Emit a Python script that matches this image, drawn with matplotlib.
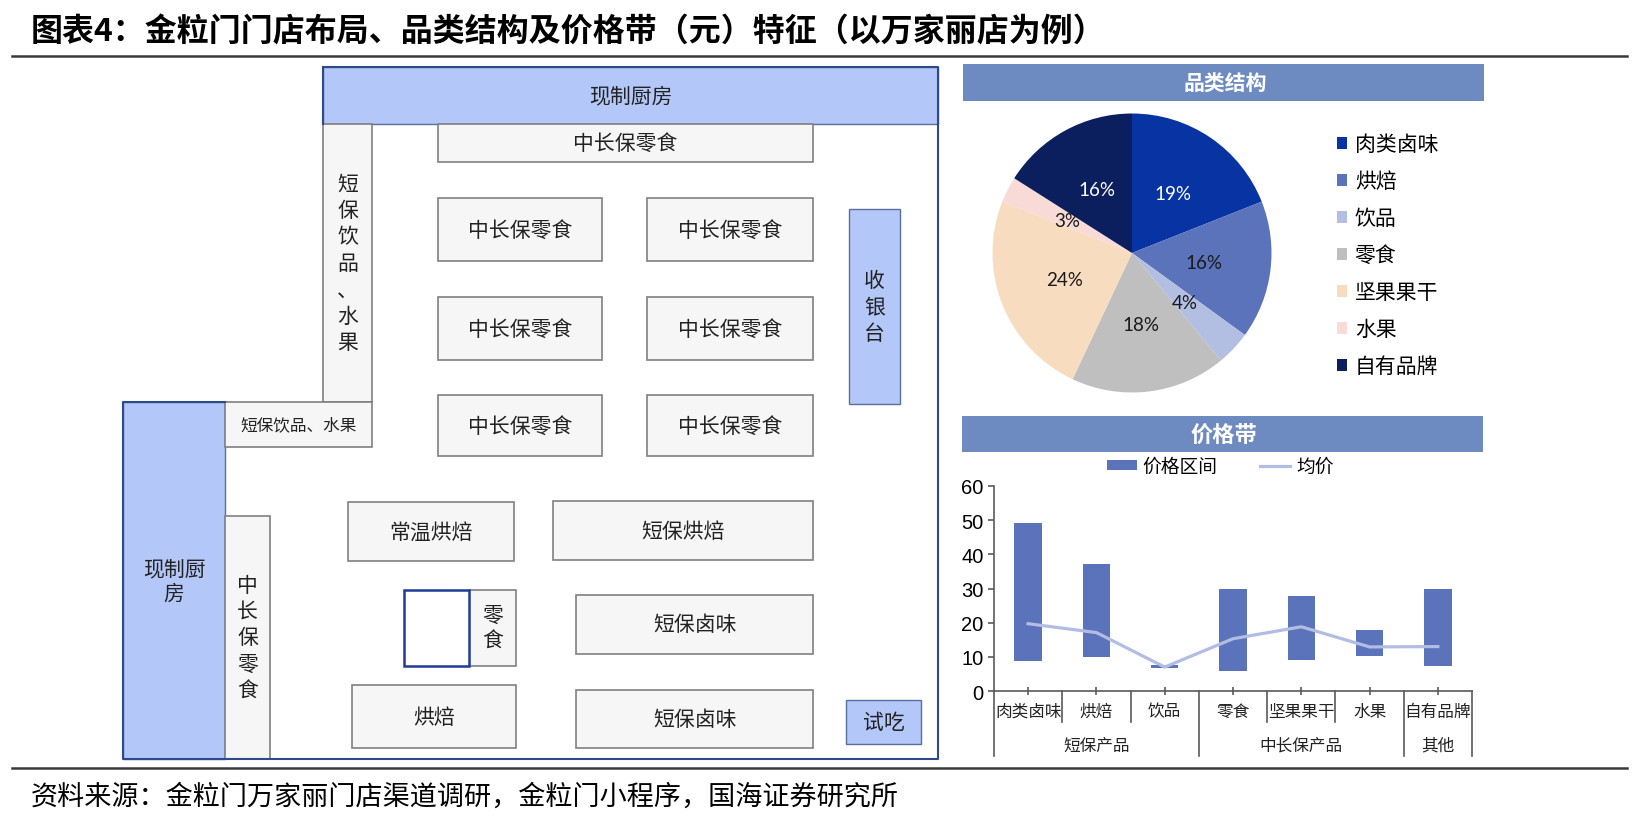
import matplotlib
matplotlib.use('Agg')
import matplotlib.pyplot as plt
from matplotlib.patches import Rectangle, Patch
from matplotlib.lines import Line2D
import numpy as np

plt.rcParams['font.family'] = ['Noto Sans CJK SC', 'DejaVu Sans']

W, H = 1638, 828

# category structure (pie)
pie_cats = ['肉类卤味', '烘焙', '饮品', '零食', '坚果果干', '水果', '自有品牌']
pie_share = [19, 16, 4, 18, 24, 3, 16]
pie_colors = ['#0834a3', '#5b73bb', '#b3bee3', '#bfbfbf', '#f7dcbf', '#f8dbd6', '#0b1f5e']
pie_text_colors = ['white', '#1a1a1a', '#1a1a1a', '#1a1a1a', '#1a1a1a', '#1a1a1a', 'white']

# price band (yuan)
price_cats = ['肉类卤味', '烘焙', '饮品', '零食', '坚果果干', '水果', '自有品牌']
price_low = [8.8, 10.0, 6.6, 6.0, 9.1, 10.2, 7.3]
price_high = [49.1, 37.2, 7.5, 30.0, 27.9, 18.0, 30.0]
price_avg = [19.7, 17.1, 7.0, 15.3, 18.8, 12.9, 13.0]
groups = ['短保产品', '中长保产品', '其他']
group_first = [0, 3, 6]
group_last = [2, 5, 6]

# store layout blocks: label, x0, y0, x1, y1 (pixels), kind, vertical text, font size
blocks = [
    ('现制厨房', 323, 68, 938, 125, 'kitchen', False, 15),
    ('现制厨\n房', 123, 403, 225, 760, 'kitchen', False, 15),
    ('收银台', 849, 210, 900, 405, 'kitchen', True, 15),
    ('试吃', 846, 701, 921, 745, 'kitchen', False, 15),
    ('中长保零食', 438, 125, 813, 163, 'shelf', False, 15),
    ('中长保零食', 438, 199, 602, 262, 'shelf', False, 15),
    ('中长保零食', 647, 199, 813, 262, 'shelf', False, 15),
    ('中长保零食', 438, 298, 602, 361, 'shelf', False, 15),
    ('中长保零食', 647, 298, 813, 361, 'shelf', False, 15),
    ('中长保零食', 438, 396, 602, 457, 'shelf', False, 15),
    ('中长保零食', 647, 396, 813, 457, 'shelf', False, 15),
    ('短保饮品、水果', 323, 125, 372, 403, 'shelf', True, 15),
    ('短保饮品、水果', 225, 403, 372, 448, 'shelf', False, 12),
    ('中长保零食', 225, 517, 270, 760, 'shelf', True, 15),
    ('常温烘焙', 348, 503, 514, 562, 'shelf', False, 15),
    ('短保烘焙', 553, 502, 813, 561, 'shelf', False, 15),
    ('零食', 469, 591, 516, 667, 'shelf', True, 15),
    ('烘焙', 352, 686, 516, 749, 'shelf', False, 15),
    ('短保卤味', 576, 596, 813, 655, 'shelf', False, 15),
    ('短保卤味', 576, 691, 813, 749, 'shelf', False, 15),
    ('', 404, 591, 469, 667, 'empty', False, 15),
]
styles = {
    'kitchen': dict(facecolor='#b4c7f9', edgecolor='#5a6ea0', linewidth=1.0),
    'shelf': dict(facecolor='#f6f6f6', edgecolor='#808080', linewidth=1.2),
    'empty': dict(facecolor='white', edgecolor='#1f3c96', linewidth=1.8),
}

fig = plt.figure(figsize=(W / 100, H / 100), dpi=100)
bg = fig.add_axes([0, 0, 1, 1])
bg.set_xlim(0, W)
bg.set_ylim(H, 0)
bg.axis('off')

# title, rules, source
bg.text(31, 33, '图表4：金粒门门店布局、品类结构及价格带（元）特征（以万家丽店为例）',
        fontsize=23, fontweight='bold', va='center', ha='left')
bg.plot([12, 1627], [57, 57], color='#3a3a3a', lw=1.8)
bg.plot([12, 1627], [769, 769], color='#3a3a3a', lw=1.8)
bg.text(31, 797, '资料来源：金粒门万家丽门店渠道调研，金粒门小程序，国海证券研究所',
        fontsize=19.5, va='center', ha='left')

# store layout
for label, x0, y0, x1, y1, kind, vert, fs in blocks:
    bg.add_patch(Rectangle((x0, y0), x1 - x0, y1 - y0, **styles[kind]))
    if label:
        txt = '\n'.join(label) if vert else label
        bg.text((x0 + x1) / 2, (y0 + y1) / 2, txt, fontsize=fs, ha='center', va='center',
                color='#222222', linespacing=1.26 if vert else 1.15, multialignment='center')
wall = '#2c4a8c'
bg.plot([323, 938, 938, 123, 123, 225], [68, 68, 760, 760, 403, 403], color=wall, lw=1.5)
bg.plot([323, 323], [68, 125], color=wall, lw=1.5)

# panel headers
head = '#6e8bc1'
bg.add_patch(Rectangle((963, 65), 521, 37, facecolor=head, edgecolor='none'))
bg.text(1225, 84, '品类结构', color='white', fontsize=15, fontweight='bold', ha='center', va='center')
bg.add_patch(Rectangle((962, 417), 521, 36, facecolor=head, edgecolor='none'))
bg.text(1224, 435, '价格带', color='white', fontsize=16, fontweight='bold', ha='center', va='center')

# pie
cx, cy, r = 1132, 254, 139.5
pax = fig.add_axes([(cx - r) / W, 1 - (cy + r) / H, 2 * r / W, 2 * r / H])
wedges, _, autotexts = pax.pie(pie_share, colors=pie_colors, startangle=90, counterclock=False,
                               radius=1, autopct=lambda p: f'{p:.0f}%', pctdistance=0.52,
                               textprops=dict(fontsize=13.5, family=['Lato', 'DejaVu Sans']))
for t, c in zip(autotexts, pie_text_colors):
    t.set_color(c)
pax.set_xlim(-1, 1)
pax.set_ylim(-1, 1)
pax.set_aspect('equal')
fig.legend(wedges, pie_cats, loc='upper left', bbox_to_anchor=(1337 / W, 1 - 134 / H),
           frameon=False, fontsize=15, handlelength=0.5, handleheight=0.5,
           handletextpad=0.35, labelspacing=0.72, borderpad=0, borderaxespad=0)

# price band bars
bax = fig.add_axes([994 / W, 1 - 692 / H, 478 / W, 205 / H])
x = np.arange(len(price_cats))
heights = np.array(price_high) - np.array(price_low)
bar_color = '#5b73bb'
avg_color = '#b3bde3'
bax.bar(x, heights, bottom=price_low, width=0.4, color=bar_color, zorder=2)
bax.plot(x, price_avg, color=avg_color, lw=2.3, zorder=3)
bax.set_xlim(-0.5, len(price_cats) - 0.5)
bax.set_ylim(0, 60)
bax.set_yticks(range(0, 61, 10))
bax.set_facecolor('none')
for s in ['top', 'right']:
    bax.spines[s].set_visible(False)
for s in ['left', 'bottom']:
    bax.spines[s].set_color('#5a5a5a')
    bax.spines[s].set_linewidth(1.2)
bax.tick_params(axis='y', direction='out', length=4.5, width=1.2, color='#5a5a5a',
                labelsize=14.5, pad=3)
for t in bax.get_yticklabels():
    t.set_family(['Liberation Sans', 'DejaVu Sans'])
bax.set_xticks(x)
bax.set_xticklabels([])
bax.tick_params(axis='x', direction='inout', length=6, width=1.2, color='#5a5a5a')

trans = bax.get_xaxis_transform()
ax_h = 205.0
for i, c in enumerate(price_cats):
    bax.text(i, -20 / ax_h, c, transform=trans, ha='center', va='center', fontsize=12,
             color='#222222')
for i in range(len(price_cats) + 1):
    b = i - 0.5
    is_group = (i == 0) or (i - 1 in group_last)
    depth = -65 / ax_h if is_group else -31 / ax_h
    bax.plot([b, b], [0, depth], transform=trans, color='#5a5a5a', lw=1.2, clip_on=False)
for g, a, b in zip(groups, group_first, group_last):
    bax.text((a + b) / 2, -54 / ax_h, g, transform=trans, ha='center', va='center',
             fontsize=12, color='#222222')

handles = [Patch(facecolor=bar_color, edgecolor='none'), Line2D([], [], color=avg_color, lw=2.3)]
fig.legend(handles, ['价格区间', '均价'], loc='center', bbox_to_anchor=(1220 / W, 1 - 467 / H),
           ncol=2, frameon=False, fontsize=13.5, handlelength=1.6, handleheight=0.5,
           handletextpad=0.3, columnspacing=2.3, borderpad=0)

fig.savefig('out.png', dpi=100)
